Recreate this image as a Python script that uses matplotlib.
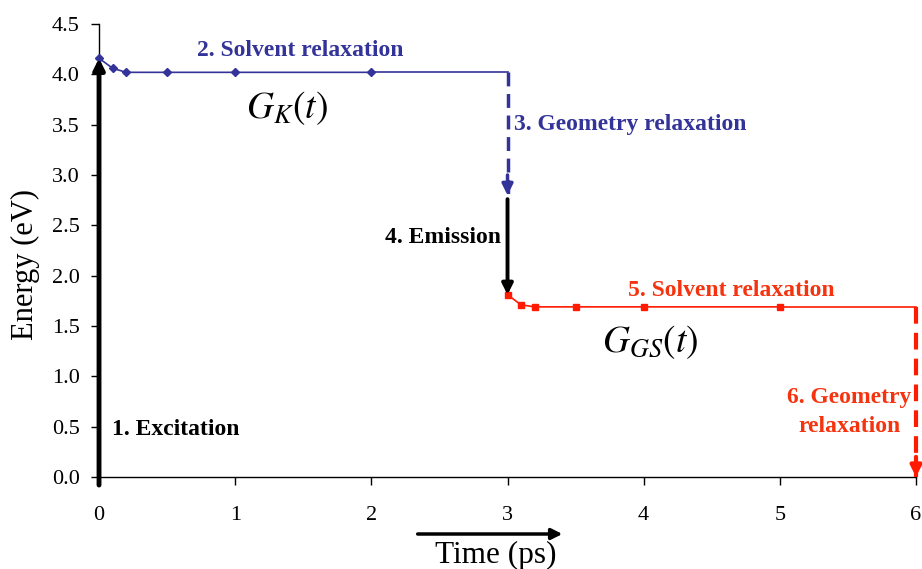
import numpy as np
import matplotlib
matplotlib.use("Agg")
import matplotlib.pyplot as plt
from matplotlib.patches import FancyArrowPatch

plt.rcParams['font.family'] = ['Liberation Serif', 'DejaVu Serif']
plt.rcParams['mathtext.fontset'] = 'stix'

# excited state curve G_K(t)
t_k = [0.0, 0.1, 0.2, 0.5, 1.0, 2.0, 3.0]
e_k = [4.16, 4.06, 4.02, 4.02, 4.02, 4.02, 4.02]

# ground state curve G_GS(t)
t_gs = [3.0, 3.1, 3.2, 3.5, 4.0, 5.0, 6.0]
e_gs = [1.81, 1.71, 1.69, 1.69, 1.69, 1.69, 1.69]

# energy where geometry relaxation ends and emission starts
e_emit_top = 2.80

x_ticks = [0, 1, 2, 3, 4, 5, 6]
y_ticks = [0.0, 0.5, 1.0, 1.5, 2.0, 2.5, 3.0, 3.5, 4.0, 4.5]

blue = '#333399'
red = '#ff1a00'
red_txt = '#f5330f'

fig = plt.figure(figsize=(9.22, 5.69), dpi=100)
ax = fig.add_axes([0.1074, 0.1617, 0.8861, 0.7961])

ax.plot(t_k[:-1], e_k[:-1], color=blue, lw=1.2, marker='D', ms=4, zorder=3, clip_on=False)
ax.plot(t_k[-2:], e_k[-2:], color=blue, lw=1.2, zorder=3, clip_on=False)
ax.plot(t_gs[:-1], e_gs[:-1], color=red, lw=1.2, marker='s', ms=4, zorder=3, clip_on=False)
ax.plot(t_gs[-2:], e_gs[-2:], color=red, lw=1.2, zorder=3, clip_on=False)

# vertical transitions
def varrow(x, y0, y1, color, ls='-', lw=2.5):
    if ls != '-':
        # dashed shaft, solid head
        ax.plot([x, x], [y0, y1], color=color, lw=lw, ls=(0, (4, 2.2)),
                zorder=4, clip_on=False)
        y0 = y1 + 0.2 * np.sign(y0 - y1)
    ax.annotate('', xy=(x, y1), xytext=(x, y0),
                arrowprops=dict(arrowstyle='-|>', color=color, lw=lw,
                                mutation_scale=16, shrinkA=0, shrinkB=0),
                zorder=4, annotation_clip=False)

varrow(0.0, -0.08, e_k[0], 'black', lw=3.5)
varrow(3.0, e_k[-1], e_emit_top, blue, ls='--', lw=2.5)
varrow(3.0, e_emit_top - 0.04, e_gs[0], 'black', lw=2.8)
varrow(6.0, e_gs[-1], 0.0, red, ls='--', lw=3)

bold = dict(fontsize=17, fontweight='bold')
ax.text(1.48, 4.24, '2. Solvent relaxation', color=blue, ha='center', va='center', **bold)
ax.text(1.38, 3.66, r'$G_K(t)$', fontsize=27, ha='center', va='center')
ax.text(3.05, 3.50, '3. Geometry relaxation', color=blue, ha='left', va='center', **bold)
ax.text(2.95, 2.38, '4. Emission', color='black', ha='right', va='center', **bold)
ax.text(4.64, 1.85, '5. Solvent relaxation', color=red_txt, ha='center', va='center', **bold)
ax.text(4.05, 1.34, r'$G_{GS}(t)$', fontsize=27, ha='center', va='center')
ax.text(5.51, 0.645, '6. Geometry\nrelaxation', color=red_txt, ha='center', va='center',
        linespacing=1.5, **bold)
ax.text(0.095, 0.47, '1. Excitation', color='black', ha='left', va='center', **bold)

ax.set_xlim(0, 6)
ax.set_ylim(0, 4.5)
ax.set_xticks(x_ticks)
ax.set_yticks(y_ticks)
ax.set_yticklabels(['%.1f' % v for v in y_ticks])
ax.tick_params(labelsize=16, direction='out', length=6, width=1)
ax.tick_params(axis='x', pad=15)
ax.tick_params(axis='y', pad=8)
for s in ['top', 'right']:
    ax.spines[s].set_visible(False)
ax.spines['left'].set_linewidth(1.0)
ax.spines['bottom'].set_linewidth(1.0)

ax.set_ylabel('Energy (eV)', fontsize=22)
ax.yaxis.set_label_coords(-0.072, 0.47)

# time label with arrow above it
fig.text(0.538, 0.0246, 'Time (ps)', fontsize=22.5, ha='center', va='center')
fig.patches.append(FancyArrowPatch(
    (0.450, 0.0615), (0.613, 0.0615), transform=fig.transFigure,
    arrowstyle='-|>', mutation_scale=16, lw=2.5, color='black'))

fig.savefig('out.png', dpi=100)
